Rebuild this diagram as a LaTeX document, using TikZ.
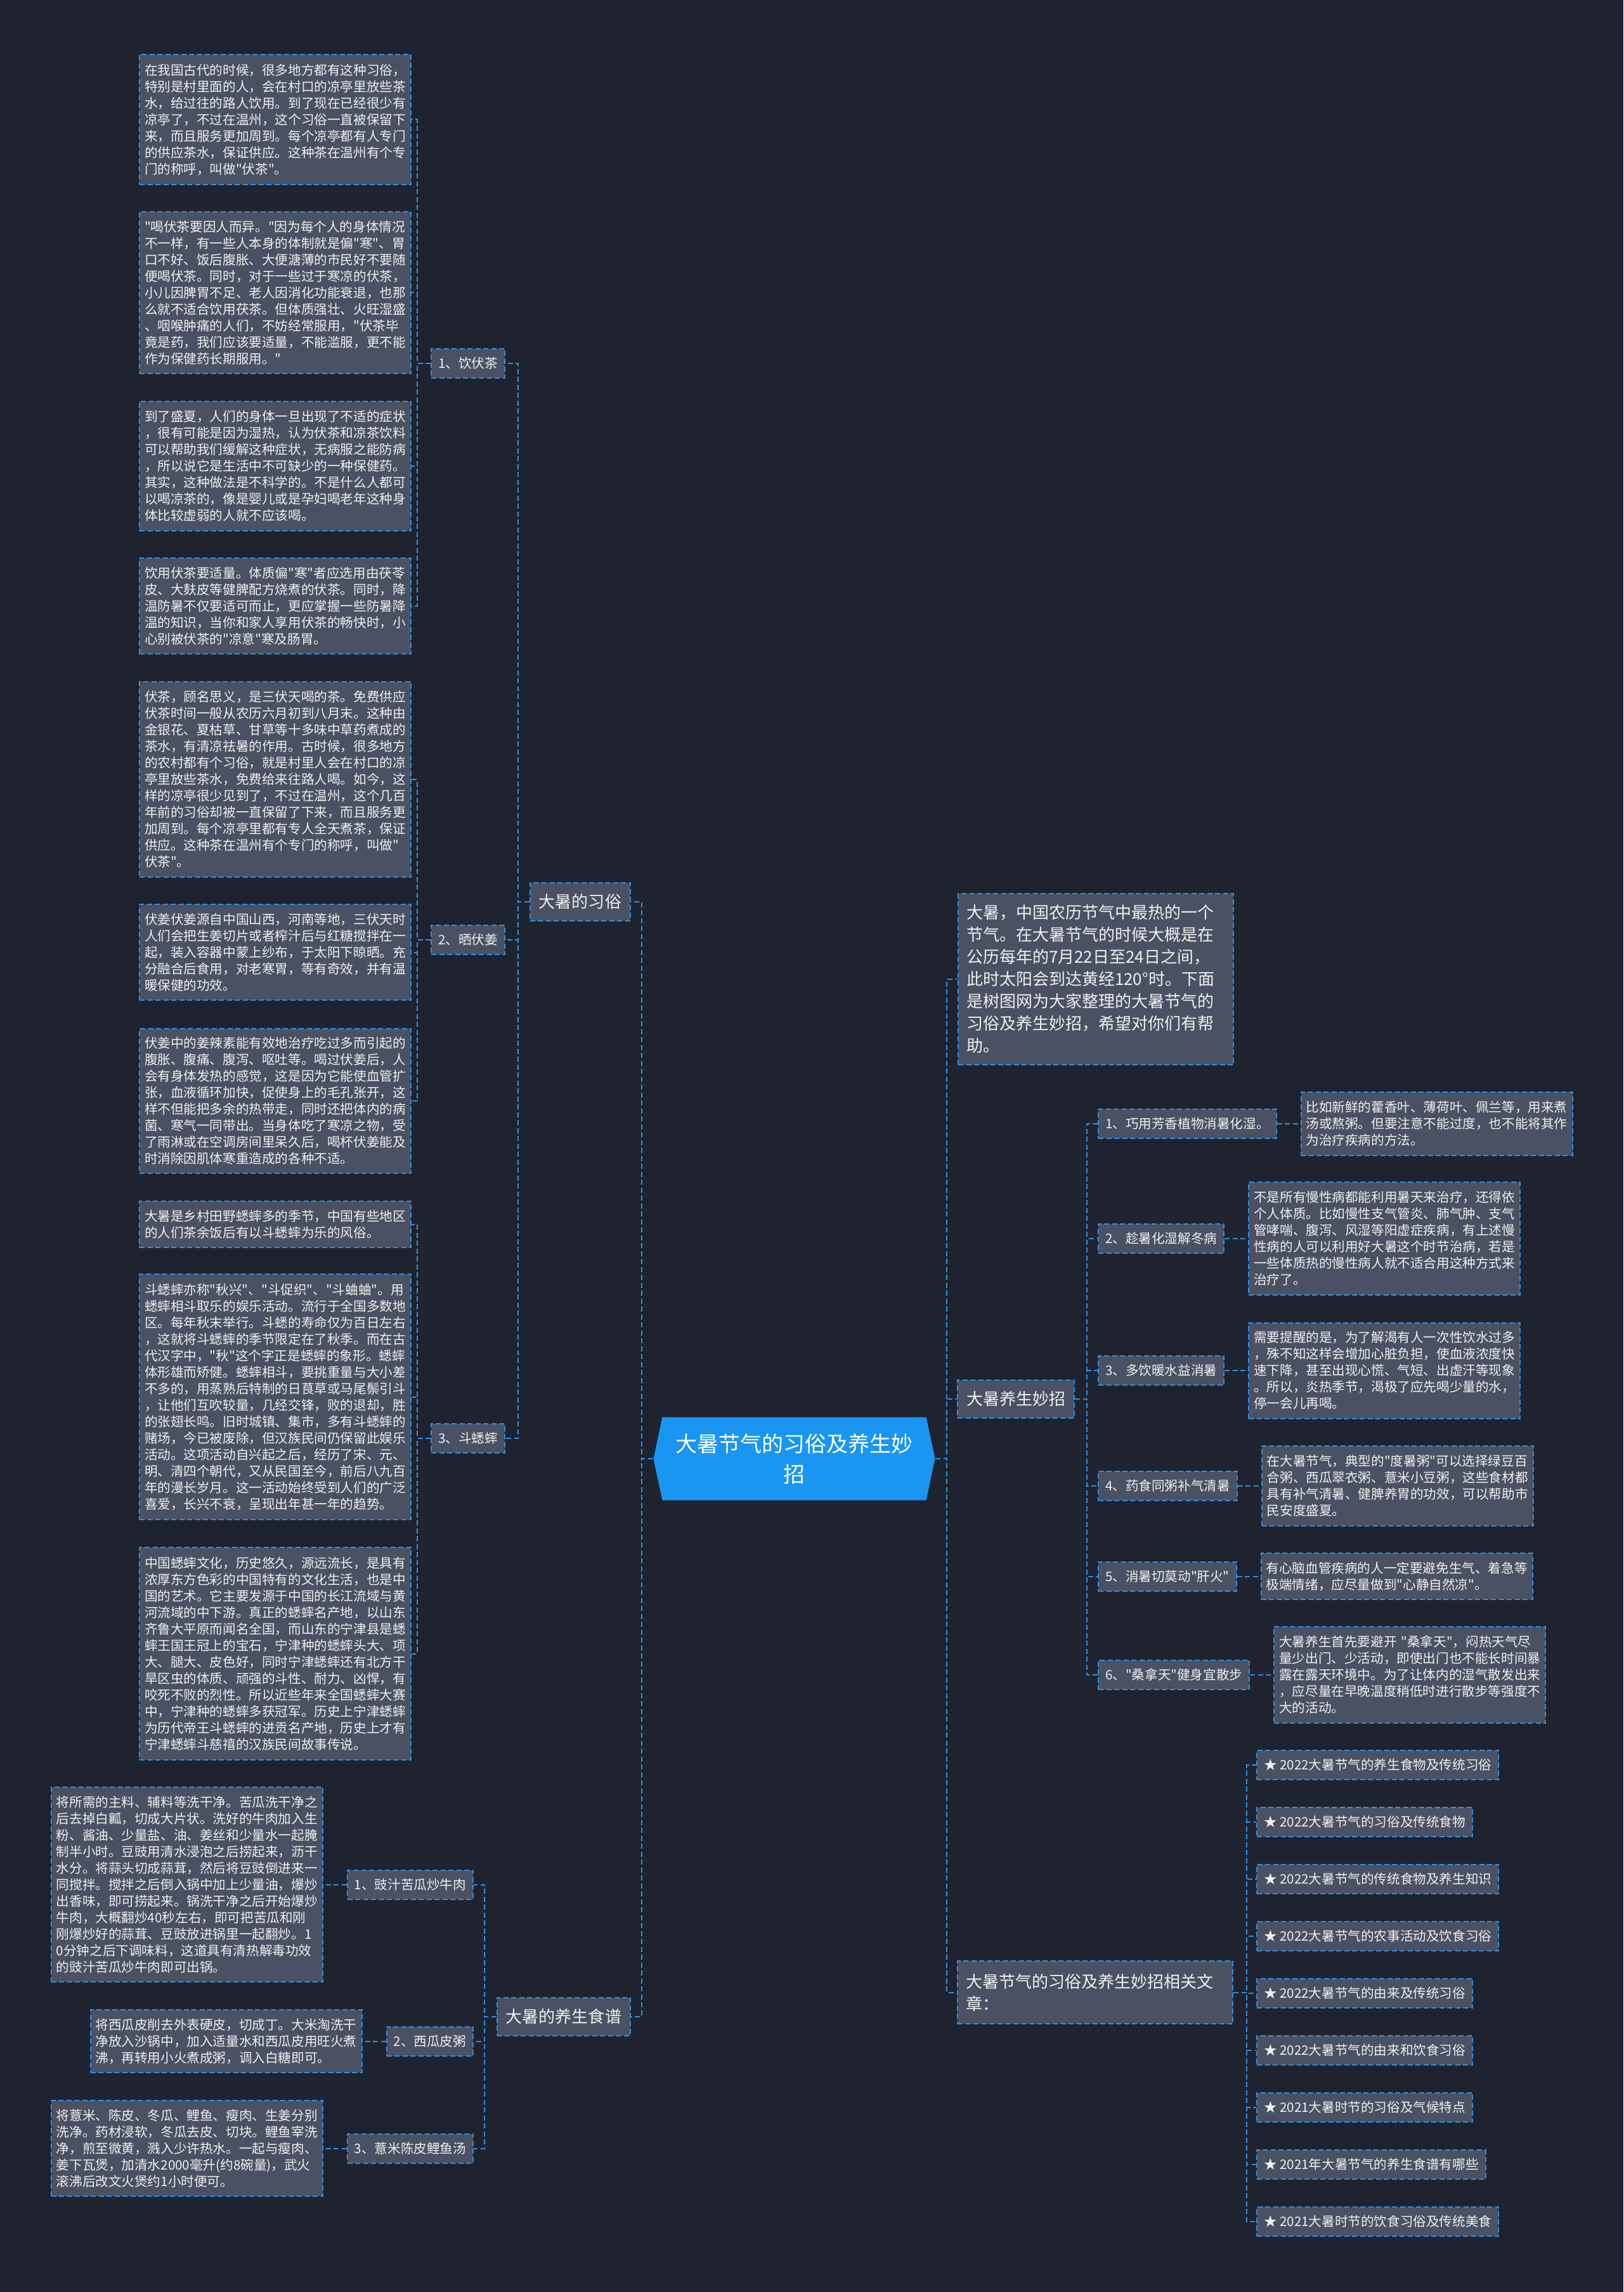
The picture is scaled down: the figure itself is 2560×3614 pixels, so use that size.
\documentclass[tikz,border=0pt]{standalone}
\usepackage{fontspec}
\newfontfamily\cjkfont{Noto Sans CJK SC}
\usetikzlibrary{positioning,shapes.symbols}

\definecolor{bgnavy}{HTML}{1F2330}
\definecolor{boxgray}{HTML}{4A5162}
\definecolor{linkblue}{HTML}{2C8FE3}
\definecolor{rootblue}{HTML}{1A96F2}
\definecolor{textwhite}{HTML}{F0F0F0}

\newcommand\leaffont{\cjkfont\fontsize{5.86pt}{7.40pt}\selectfont}
\newcommand\branchfont{\cjkfont\fontsize{7.40pt}{9.96pt}\selectfont}
\newcommand\rootfont{\cjkfont\fontsize{9.67pt}{13.66pt}\selectfont}

\tikzset{
	boxed/.style={draw=linkblue, line width=0.2mm, dash pattern=on 0.8mm off 0.45mm,
		fill=boxgray, text=textwhite},
	leaf/.style={boxed, font=\leaffont, align=left, text width=41.2mm,
		inner xsep=0.8mm, inner ysep=0pt},
	note/.style={boxed, font=\branchfont, align=left, text width=40.8mm,
		inner xsep=1.3mm, inner ysep=0pt},
	topic/.style={boxed, font=\leaffont, inner xsep=1.1mm, inner ysep=0pt,
		minimum height=4.6mm},
	branch/.style={boxed, font=\branchfont, inner xsep=1.4mm, inner ysep=0pt,
		minimum height=6mm},
	root/.style={signal, signal to=east and west, signal pointer angle=156,
		fill=rootblue, text=white, font=\rootfont, align=center, inner sep=0pt,
		minimum width=44.4mm, minimum height=13.1mm},
	link/.style={draw=linkblue, line width=0.2mm, dash pattern=on 0.8mm off 0.45mm},
}

\begin{document}
\begin{tikzpicture}[x=0.1mm, y=-0.1mm]

	% --- Background ---
	\fill[bgnavy] (0,0) rectangle (2560,3614);

	% --- Root ---
	\node[root] (root) at (1252.5,2300) {大暑节气的习俗及养生妙\\招};

	% --- Left branches ---
	\node[branch, anchor=east] (custom) at (995,1421.5) {大暑的习俗};
	\node[branch, anchor=east] (recipe) at (995,3179.5) {大暑的养生食谱};

	% --- Customs ---
	\node[topic, anchor=east] (tea) at (797,572.5) {1、饮伏茶};
	\node[topic, anchor=east] (ginger) at (797,1482) {2、晒伏姜};
	\node[topic, anchor=east] (cricket) at (797,2268) {3、斗蟋蟀};

	% 1、饮伏茶
	\node[leaf, minimum height=20.5mm] (tea1) at (434,188.5) {在我国古代的时候，很多地方都有这种习俗，\\特别是村里面的人，会在村口的凉亭里放些茶\\水，给过往的路人饮用。到了现在已经很少有\\凉亭了，不过在温州，这个习俗一直被保留下\\来，而且服务更加周到。每个凉亭都有人专门\\的供应茶水，保证供应。这种茶在温州有个专\\门的称呼，叫做"伏茶"。};
	\node[leaf, minimum height=25.5mm] (tea2) at (434,461.5) {"喝伏茶要因人而异。"因为每个人的身体情况\\不一样，有一些人本身的体制就是偏"寒"、胃\\口不好、饭后腹胀、大便溏薄的市民好不要随\\便喝伏茶。同时，对于一些过于寒凉的伏茶，\\小儿因脾胃不足、老人因消化功能衰退，也那\\么就不适合饮用茯茶。但体质强壮、火旺湿盛\\、咽喉肿痛的人们，不妨经常服用，"伏茶毕\\竟是药，我们应该要适量，不能滥服，更不能\\作为保健药长期服用。"};
	\node[leaf, minimum height=20.4mm] (tea3) at (434,735) {到了盛夏，人们的身体一旦出现了不适的症状\\，很有可能是因为湿热，认为伏茶和凉茶饮料\\可以帮助我们缓解这种症状，无病服之能防病\\，所以说它是生活中不可缺少的一种保健药。\\其实，这种做法是不科学的。不是什么人都可\\以喝凉茶的，像是婴儿或是孕妇喝老年这种身\\体比较虚弱的人就不应该喝。};
	\node[leaf, minimum height=15.1mm] (tea4) at (434,955.5) {饮用伏茶要适量。体质偏"寒"者应选用由茯苓\\皮、大麸皮等健脾配方烧煮的伏茶。同时，降\\温防暑不仅要适可而止，更应掌握一些防暑降\\温的知识，当你和家人享用伏茶的畅快时，小\\心别被伏茶的"凉意"寒及肠胃。};

	% 2、晒伏姜
	\node[leaf, minimum height=30.8mm] (ginger1) at (434,1229) {伏茶，顾名思义，是三伏天喝的茶。免费供应\\伏茶时间一般从农历六月初到八月末。这种由\\金银花、夏枯草、甘草等十多味中草药煮成的\\茶水，有清凉祛暑的作用。古时候，很多地方\\的农村都有个习俗，就是村里人会在村口的凉\\亭里放些茶水，免费给来往路人喝。如今，这\\样的凉亭很少见到了，不过在温州，这个几百\\年前的习俗却被一直保留了下来，而且服务更\\加周到。每个凉亭里都有专人全天煮茶，保证\\供应。这种茶在温州有个专门的称呼，叫做"\\伏茶"。};
	\node[leaf, minimum height=15.1mm] (ginger2) at (434,1501.5) {伏姜伏姜源自中国山西，河南等地，三伏天时\\人们会把生姜切片或者榨汁后与红糖搅拌在一\\起，装入容器中蒙上纱布，于太阳下晾晒。充\\分融合后食用，对老寒胃，等有奇效，并有温\\暖保健的功效。};
	\node[leaf, minimum height=22.8mm] (ginger3) at (434,1736) {伏姜中的姜辣素能有效地治疗吃过多而引起的\\腹胀、腹痛、腹泻、呕吐等。喝过伏姜后，人\\会有身体发热的感觉，这是因为它能使血管扩\\张，血液循环加快，促使身上的毛孔张开，这\\样不但能把多余的热带走，同时还把体内的病\\菌、寒气一同带出。当身体吃了寒凉之物，受\\了雨淋或在空调房间里呆久后，喝杯伏姜能及\\时消除因肌体寒重造成的各种不适。};

	% 3、斗蟋蟀
	\node[leaf, minimum height=7.3mm] (cricket1) at (434,1930.5) {大暑是乡村田野蟋蟀多的季节，中国有些地区\\的人们茶余饭后有以斗蟋蟀为乐的风俗。};
	\node[leaf, minimum height=38.7mm] (cricket2) at (434,2202.5) {斗蟋蟀亦称"秋兴"、"斗促织"、"斗蛐蛐"。用\\蟋蟀相斗取乐的娱乐活动。流行于全国多数地\\区。每年秋末举行。斗蟋的寿命仅为百日左右\\，这就将斗蟋蟀的季节限定在了秋季。而在古\\代汉字中，"秋"这个字正是蟋蟀的象形。蟋蟀\\体形雄而矫健。蟋蟀相斗，要挑重量与大小差\\不多的，用蒸熟后特制的日茛草或马尾鬃引斗\\，让他们互吹较量，几经交锋，败的退却，胜\\的张翅长鸣。旧时城镇、集市，多有斗蟋蟀的\\赌场，今已被废除，但汉族民间仍保留此娱乐\\活动。这项活动自兴起之后，经历了宋、元、\\明、清四个朝代，又从民国至今，前后八九百\\年的漫长岁月。这一活动始终受到人们的广泛\\喜爱，长兴不衰，呈现出年甚一年的趋势。};
	\node[leaf, minimum height=33.5mm] (cricket3) at (434,2607.5) {中国蟋蟀文化，历史悠久，源远流长，是具有\\浓厚东方色彩的中国特有的文化生活，也是中\\国的艺术。它主要发源于中国的长江流域与黄\\河流域的中下游。真正的蟋蟀名产地，以山东\\齐鲁大平原而闻名全国，而山东的宁津县是蟋\\蟀王国王冠上的宝石，宁津种的蟋蟀头大、项\\大、腿大、皮色好，同时宁津蟋蟀还有北方干\\旱区虫的体质、顽强的斗性、耐力、凶悍，有\\咬死不败的烈性。所以近些年来全国蟋蟀大赛\\中，宁津种的蟋蟀多获冠军。历史上宁津蟋蟀\\为历代帝王斗蟋蟀的进贡名产地，历史上才有\\宁津蟋蟀斗慈禧的汉族民间故事传说。};

	% --- Recipes ---
	\node[topic, anchor=east] (bitter) at (747,2971.5) {1、豉汁苦瓜炒牛肉};
	\node[topic, anchor=east] (melon) at (747,3218.5) {2、西瓜皮粥};
	\node[topic, anchor=east] (carp) at (747,3387.5) {3、薏米陈皮鲤鱼汤};

	\node[leaf, left=3.7mm of bitter, minimum height=30.7mm] (bitter1) {将所需的主料、辅料等洗干净。苦瓜洗干净之\\后去掉白瓤，切成大片状。洗好的牛肉加入生\\粉、酱油、少量盐、油、姜丝和少量水一起腌\\制半小时。豆豉用清水浸泡之后捞起来，沥干\\水分。将蒜头切成蒜茸，然后将豆豉倒进来一\\同搅拌。搅拌之后倒入锅中加上少量油，爆炒\\出香味，即可捞起来。锅洗干净之后开始爆炒\\牛肉，大概翻炒40秒左右，即可把苦瓜和刚\\刚爆炒好的蒜茸、豆豉放进锅里一起翻炒。1\\0分钟之后下调味料，这道具有清热解毒功效\\的豉汁苦瓜炒牛肉即可出锅。};
	\node[leaf, left=3.7mm of melon, minimum height=9.9mm] (melon1) {将西瓜皮削去外表硬皮，切成丁。大米淘洗干\\净放入沙锅中，加入适量水和西瓜皮用旺火煮\\沸，再转用小火煮成粥，调入白糖即可。};
	\node[leaf, left=3.7mm of carp, minimum height=15.1mm] (carp1) {将薏米、陈皮、冬瓜、鲤鱼、瘦肉、生姜分别\\洗净。药材浸软，冬瓜去皮、切块。鲤鱼宰洗\\净，煎至微黄，溅入少许热水。一起与瘦肉、\\姜下瓦煲，加清水2000毫升(约8碗量)，武火\\滚沸后改文火煲约1小时便可。};

	% --- Right branches ---
	\node[note, anchor=west, minimum height=27mm] (intro) at (1510,1544) {大暑，中国农历节气中最热的一个\\节气。在大暑节气的时候大概是在\\公历每年的7月22日至24日之间，\\此时太阳会到达黄经120°时。下面\\是树图网为大家整理的大暑节气的\\习俗及养生妙招，希望对你们有帮\\助。};
	\node[branch, anchor=west] (health) at (1509,2206) {大暑养生妙招};
	\node[note, anchor=west, minimum height=9.9mm] (related) at (1509,3141.5) {大暑节气的习俗及养生妙招相关文\\章：};

	% --- Health tips ---
	\node[topic, anchor=west] (tip1) at (1731,1771.5) {1、巧用芳香植物消暑化湿。};
	\node[topic, anchor=west] (tip2) at (1731,1953) {2、趁暑化湿解冬病};
	\node[topic, anchor=west] (tip3) at (1731,2161) {3、多饮暖水益消暑};
	\node[topic, anchor=west] (tip4) at (1731,2342.5) {4、药食同粥补气清暑};
	\node[topic, anchor=west] (tip5) at (1731,2485.5) {5、消暑切莫动"肝火"};
	\node[topic, anchor=west] (tip6) at (1731,2640.5) {6、"桑拿天"健身宜散步};

	\node[leaf, right=3.7mm of tip1, minimum height=10mm] (tip1x) {比如新鲜的藿香叶、薄荷叶、佩兰等，用来煮\\汤或熬粥。但要注意不能过度，也不能将其作\\为治疗疾病的方法。};
	\node[leaf, right=3.7mm of tip2, minimum height=17.8mm] (tip2x) {不是所有慢性病都能利用暑天来治疗，还得依\\个人体质。比如慢性支气管炎、肺气肿、支气\\管哮喘、腹泻、风湿等阳虚症疾病，有上述慢\\性病的人可以利用好大暑这个时节治病，若是\\一些体质热的慢性病人就不适合用这种方式来\\治疗了。};
	\node[leaf, right=3.7mm of tip3, minimum height=15.1mm] (tip3x) {需要提醒的是，为了解渴有人一次性饮水过多\\，殊不知这样会增加心脏负担，使血液浓度快\\速下降，甚至出现心慌、气短、出虚汗等现象\\。所以，炎热季节，渴极了应先喝少量的水，\\停一会儿再喝。};
	\node[leaf, right=3.7mm of tip4, minimum height=12.6mm] (tip4x) {在大暑节气，典型的"度暑粥"可以选择绿豆百\\合粥、西瓜翠衣粥、薏米小豆粥，这些食材都\\具有补气清暑、健脾养胃的功效，可以帮助市\\民安度盛夏。};
	\node[leaf, right=3.7mm of tip5, minimum height=7.3mm] (tip5x) {有心脑血管疾病的人一定要避免生气、着急等\\极端情绪，应尽量做到"心静自然凉"。};
	\node[leaf, right=3.7mm of tip6, minimum height=15.2mm] (tip6x) {大暑养生首先要避开 "桑拿天"，闷热天气尽\\量少出门、少活动，即使出门也不能长时间暴\\露在露天环境中。为了让体内的湿气散发出来\\，应尽量在早晚温度稍低时进行散步等强度不\\大的活动。};

	% --- Related articles ---
	\foreach \t [count=\i] in {★ 2022大暑节气的养生食物及传统习俗, ★ 2022大暑节气的习俗及传统食物,
		★ 2022大暑节气的传统食物及养生知识, ★ 2022大暑节气的农事活动及饮食习俗,
		★ 2022大暑节气的由来及传统习俗, ★ 2022大暑节气的由来和饮食习俗,
		★ 2021大暑时节的习俗及气候特点, ★ 2021年大暑节气的养生食谱有哪些,
		★ 2021大暑时节的饮食习俗及传统美食} {
		\node[topic, anchor=west] (art\i) at (1981,{2783+90*(\i-1)}) {\t};
	}

	% --- Connectors ---
	\foreach \n in {custom,recipe}
		\draw[link] (root.west) -- ++(-18,0) |- (\n.east);
	\foreach \n in {intro,health,related}
		\draw[link] (root.east) -- ++(18,0) |- (\n.west);

	\foreach \n in {tea,ginger,cricket}
		\draw[link] (custom.west) -- ++(-18,0) |- (\n.east);
	\foreach \n in {tea1,tea2,tea3,tea4}
		\draw[link] (tea.west) -- ++(-21,0) |- (\n.east);
	\foreach \n in {ginger1,ginger2,ginger3}
		\draw[link] (ginger.west) -- ++(-21,0) |- (\n.east);
	\foreach \n in {cricket1,cricket2,cricket3}
		\draw[link] (cricket.west) -- ++(-21,0) |- (\n.east);

	\foreach \n in {bitter,melon,carp} {
		\draw[link] (recipe.west) -- ++(-19,0) |- (\n.east);
		\draw[link] (\n.west) -- (\n1.east);
	}

	\foreach \i in {1,...,6} {
		\draw[link] (health.east) -- ++(19,0) |- (tip\i.west);
		\draw[link] (tip\i.east) -- (tip\i x.west);
	}

	\foreach \i in {1,...,9}
		\draw[link] (related.east) -- ++(21,0) |- (art\i.west);

\end{tikzpicture}
\end{document}
